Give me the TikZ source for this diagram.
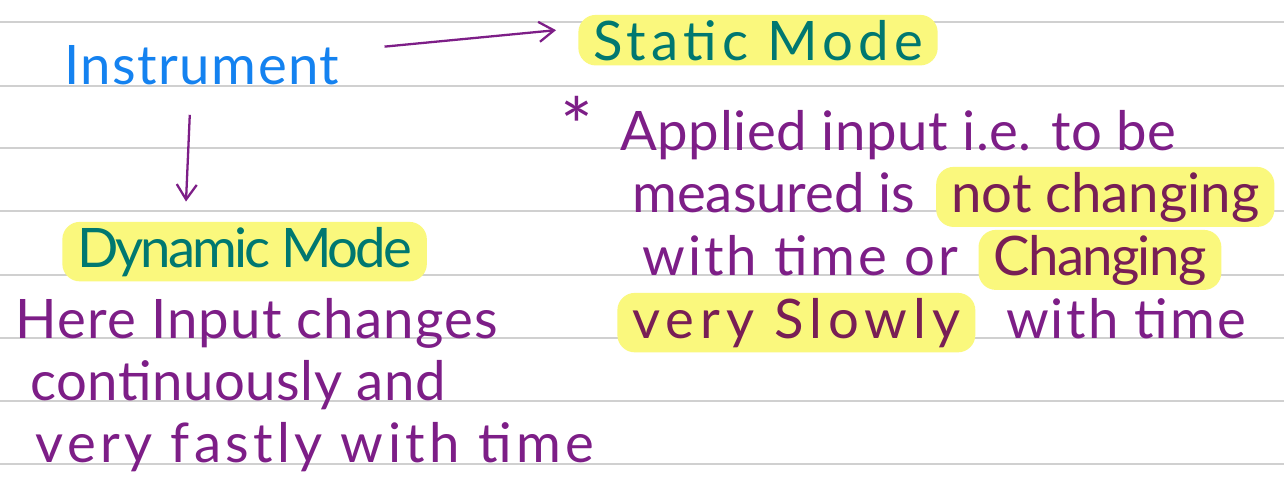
\documentclass[tikz,border=0pt]{standalone}
\usepackage{fontspec}
\setmainfont{Lato}
\usetikzlibrary{arrows.meta,calc,positioning}
\definecolor{ruleGray}{RGB}{208,208,208}
\definecolor{instblue}{RGB}{20,130,240}
\definecolor{modeteal}{RGB}{0,120,112}
\definecolor{inkpurple}{RGB}{125,30,135}
\definecolor{hlpurple}{RGB}{120,30,85}
\definecolor{hlyellow}{RGB}{250,248,125}
\tikzset{
  ruled/.style={ruleGray, line width=1pt},
  hand/.style={font=\fontsize{31}{36}\selectfont, inner sep=0pt},
  sp/.style={font=\fontsize{31}{36}\selectfont\addfontfeature{LetterSpace=#1}},
  ink/.style={hand, text=inkpurple},
  hl/.style={hand, fill=hlyellow, rounded corners=3.5mm,
             inner xsep=3mm, inner ysep=1mm},
  flow/.style={-{Straight Barb[length=3mm,width=4mm]}, inkpurple,
               line width=1.3pt},
}
\begin{document}
\begin{tikzpicture}[x=0.02cm,y=-0.02cm]
  \path[use as bounding box, fill=white] (0,0) rectangle (1284,481);

  % ruled paper
  \foreach \y in {22,86,148,211,275,338,401,464}
    \draw[ruled] (0,\y) -- (1284,\y);

  % left column
  \node[hand, sp=2.7, text=instblue, anchor=base west] (instr) at (64,84) {Instrument};
  \node[hl, sp=-5.5, text=modeteal, anchor=base west] (dynamic) at (62,267) {Dynamic Mode};
  \node[ink, sp=2.2, anchor=base west] (here) at (15,338) {Here Input changes};
  \node[ink, sp=1, anchor=base west] (cont) at (30,400) {continuously and};
  \node[ink, sp=8, anchor=base west] (fast) at (35,462) {very fastly with time};

  % right column
  \node[hl, sp=9.5, text=modeteal, anchor=base west] (static) at (578,60) {Static Mode};
  \node[ink, font=\fontsize{44}{44}\selectfont] (star) at (577,125) {*};
  \node[ink, sp=1.1, anchor=base west] (appl) at (620,150) {Applied input i.e. to be};
  \node[ink, anchor=base west] (meas) at (632,212) {measured is};
  \node[hl, text=hlpurple, right=4mm of meas.base east, anchor=base west] (notch) {not changing};
  \node[ink, sp=5.5, anchor=base west] (wtime) at (642,275) {with time or};
  \node[hl, sp=-3, text=hlpurple, right=4mm of wtime.base east, anchor=base west] (chng) {Changing};
  \node[hl, sp=11, text=hlpurple, anchor=base west] (slow) at (617,338) {very Slowly};
  \node[ink, sp=4, right=6mm of slow.base east, anchor=base west] (wtime2) {with time};

  % arrows
  \draw[flow] ($(instr.north east)+(45,2)$) -- ($(static.west)+(-22,-10)$);
  \draw[flow] ($(instr.south)+(-12,30)$) -- ($(dynamic.north west)+(124,-20)$);
\end{tikzpicture}
\end{document}
